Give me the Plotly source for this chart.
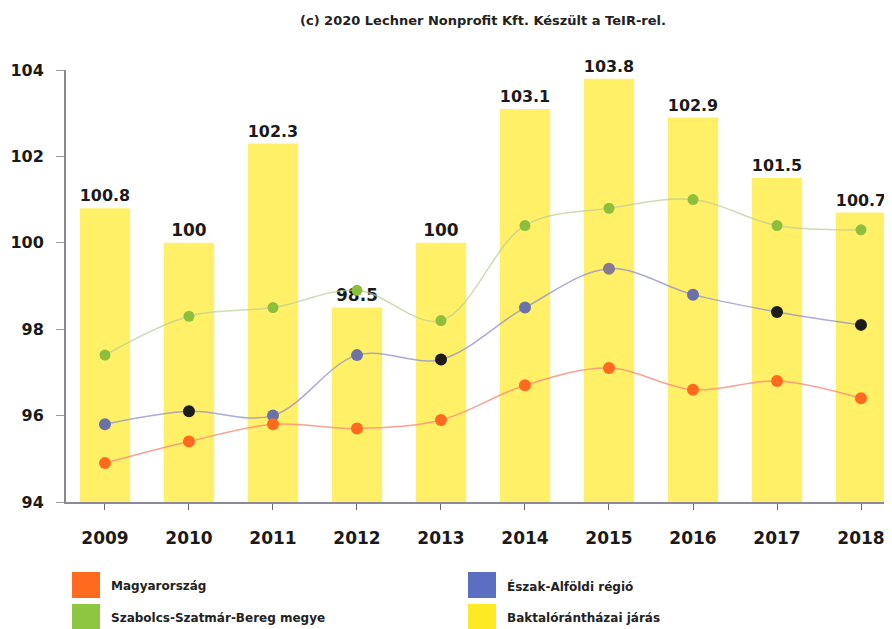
import plotly.graph_objects as go

years = ["2009", "2010", "2011", "2012", "2013", "2014", "2015", "2016", "2017", "2018"]
baktalo = [100.8, 100, 102.3, 98.5, 100, 103.1, 103.8, 102.9, 101.5, 100.7]
szabolcs = [97.4, 98.3, 98.5, 98.9, 98.2, 100.4, 100.8, 101.0, 100.4, 100.3]
eszak = [95.8, 96.1, 96.0, 97.4, 97.3, 98.5, 99.4, 98.8, 98.4, 98.1]
magyar = [94.9, 95.4, 95.8, 95.7, 95.9, 96.7, 97.1, 96.6, 96.8, 96.4]

names = ["Magyarország", "Észak-Alföldi régió", "Szabolcs-Szatmár-Bereg megye", "Baktalórántházai járás"]
legend_colors = ["#FF6A1F", "#5A6EC2", "#8DC641", "#FFE924"]

FONT = "DejaVu Sans"
# the page body has an 8px margin, so the figure is drawn 8px in from the window's corner
OFF = 8
W, H = 892 - OFF, 629 - OFF
PL, PT, PB = 66, 70, 502          # plot area edges in window pixels
PW, PH = 892 - PL, PB - PT


def px(sx):
    return (sx - PL) / PW


def py(sy):
    return (PB - sy) / PH


fig = go.Figure()

fig.add_trace(go.Bar(
    x=years, y=baktalo, width=0.6, name=names[3],
    marker=dict(color="#FFF068", line=dict(width=0)),
    text=[f"{v:g}" for v in baktalo], textposition="outside",
    textfont=dict(family=FONT, size=17, color="#1a1a1a", weight="bold"),
    cliponaxis=False, showlegend=False,
))

fig.add_trace(go.Scatter(
    x=years, y=szabolcs, mode="lines+markers", name=names[2],
    line=dict(color="rgba(185,205,150,0.7)", width=1.5, shape="spline"),
    marker=dict(color="#8DBE3C", size=11), showlegend=False,
))
eszak_marker = ["#6B72A8", "#1c1c1c", "#6B72A8", "#6B72A8", "#1c1c1c", "#6B72A8", "#857A92", "#6B72A8", "#1c1c1c", "#1c1c1c"]
fig.add_trace(go.Scatter(
    x=years, y=eszak, mode="lines+markers", name=names[1],
    line=dict(color="rgba(150,150,200,0.8)", width=1.5, shape="spline"),
    marker=dict(color=eszak_marker, size=12), showlegend=False,
))
fig.add_trace(go.Scatter(
    x=years, y=magyar, mode="lines+markers", name=names[0],
    line=dict(color="rgba(245,140,120,0.8)", width=1.5, shape="spline"),
    marker=dict(color="#FF6A1F", size=12), showlegend=False,
))

# manual legend (2 columns, big square swatches)
shapes = []
annotations = []
col_x = [72, 468]
row_y = [572, 604]
for i, (n, c) in enumerate(zip(names, legend_colors)):
    cx = col_x[i % 2]
    ry = row_y[i // 2]
    shapes.append(dict(type="rect", xref="paper", yref="paper",
                       x0=px(cx), x1=px(cx + 28),
                       y0=py(ry + 26), y1=py(ry),
                       fillcolor=c, line=dict(width=0), layer="above"))
    annotations.append(dict(text=n, xref="paper", yref="paper",
                            x=px(cx + 37), xanchor="left",
                            y=py(ry + 14), yanchor="middle",
                            showarrow=False,
                            font=dict(family=FONT, size=12, color="#222", weight="bold")))

annotations.append(dict(text="(c) 2020 Lechner Nonprofit Kft. Készült a TeIR-rel.",
                        xref="paper", yref="paper", x=px(483), xanchor="center",
                        y=py(20), yanchor="middle", showarrow=False,
                        font=dict(family=FONT, size=13, color="#222", weight="bold")))

fig.update_layout(
    width=W, height=H,
    margin=dict(l=PL - OFF, r=0, t=PT - OFF, b=H - (PB - OFF), autoexpand=False),
    plot_bgcolor="white", paper_bgcolor="white",
    showlegend=False,
    shapes=shapes, annotations=annotations,
    xaxis=dict(
        type="category", range=[-0.464, 9.369],
        showline=True, linecolor="#8a8a99", linewidth=2,
        ticks="outside", ticklen=6, tickcolor="#666",
        ticklabelstandoff=14,
        tickfont=dict(family=FONT, size=17, color="#1a1a1a", weight="bold"),
        showgrid=False, zeroline=False,
    ),
    yaxis=dict(
        range=[94, 104], dtick=2,
        showline=True, linecolor="#8a8a8a", linewidth=2,
        ticks="outside", ticklen=8, tickcolor="#999",
        ticklabelstandoff=9,
        tickfont=dict(family=FONT, size=16, color="#1a1a1a", weight="bold"),
        showgrid=False, zeroline=False,
    ),
)

fig.write_html("out.html")
